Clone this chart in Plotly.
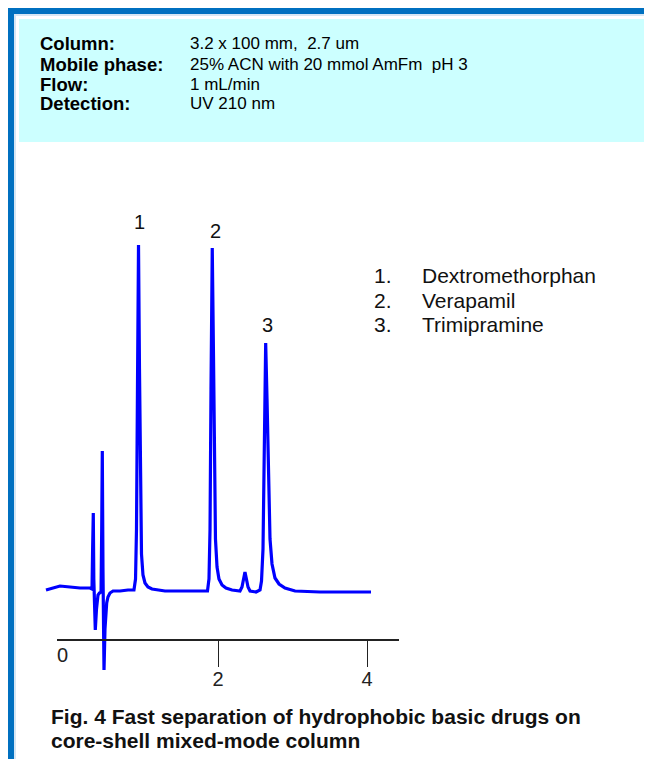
import plotly.graph_objects as go

# ---------------- data ----------------
time_min = [-0.309, -0.228, -0.121, 0.013, 0.148, 0.282, 0.309, 0.317, 0.326, 0.333, 0.342, 0.353,
            0.369, 0.389, 0.409, 0.430, 0.439, 0.447, 0.456, 0.464, 0.470, 0.483, 0.506, 0.523,
            0.550, 0.591, 0.685, 0.792, 0.872, 0.893, 0.906, 0.919, 0.933, 0.946, 0.960, 0.973,
            0.993, 1.020, 1.060, 1.114, 1.289, 1.490, 1.691, 1.859, 1.879, 1.893, 1.906, 1.923,
            1.940, 1.953, 1.966, 1.987, 2.013, 2.054, 2.107, 2.188, 2.295, 2.322, 2.349, 2.362,
            2.376, 2.403, 2.430, 2.510, 2.564, 2.584, 2.604, 2.624, 2.640, 2.658, 2.678, 2.698,
            2.725, 2.765, 2.819, 2.899, 3.034, 3.369, 3.705, 4.054]
signal = [-1, 1, 3, 2, 1, 1, 0, 40, 76, 10, -20, -41,
          -20, -6, -4, -3, 60, 138, 20, -40, -81, -40, -14, -8,
          -4, -2, -2, -1, -1, 10, 60, 200, 344, 220, 90, 35,
          14, 6, 2, 0, -2, -2, -2, -2, 10, 60, 200, 341,
          230, 110, 50, 22, 10, 4, 1, -1, -2, 2, 12, 17,
          12, 2, -2, -3, -1, 8, 40, 150, 246, 190, 100, 50,
          25, 11, 5, 1, -2, -3, -3, -3]

peak_numbers = ["1", "2", "3"]
peak_times = [0.95, 1.96, 2.67]
peak_label_heights = [367, 358, 264]

compounds = ["Dextromethorphan", "Verapamil", "Trimipramine"]

header_labels = ["Column:", "Mobile phase:", "Flow:", "Detection:"]
header_values = ["3.2 x 100 mm,  2.7 um", "25% ACN with 20 mmol AmFm  pH 3", "1 mL/min", "UV 210 nm"]

axis_ticks = [2, 4]
axis_tick_text = ["2", "4"]

caption_lines = ["Fig. 4 Fast separation of hydrophobic basic drugs on",
                 "core-shell mixed-mode column"]

# ---------------- layout helpers ----------------
OFF = 8                      # page body margin
W, H = 652 - OFF, 759 - OFF  # figure size
X_ORIGIN_PX, PX_PER_MIN = 69.0, 74.5   # reference-picture pixels
Y_BASE_PX = 589.0
X0 = -(X_ORIGIN_PX - OFF) / PX_PER_MIN
X1 = (W - (X_ORIGIN_PX - OFF)) / PX_PER_MIN
Y_TOP = Y_BASE_PX - OFF
Y_BOT = Y_BASE_PX - OFF - H


def px(x):
    return (x - OFF) / W


def py(y):
    return 1 - (y - OFF) / H


FONT = "Liberation Sans, Arial, sans-serif"
BLUE_BORDER = "#0070C0"
CYAN = "#CCFFFF"

fig = go.Figure()
fig.add_trace(go.Scatter(x=time_min, y=signal, mode="lines",
                         line=dict(color="#0000FF", width=3.2), hoverinfo="skip",
                         xaxis="x", yaxis="y", showlegend=False))
# empty trace to materialise the visible time axis
fig.add_trace(go.Scatter(x=[], y=[], xaxis="x2", yaxis="y", showlegend=False))

ax_l, ax_r = 57, 399
fig.update_layout(
    width=W, height=H,
    margin=dict(l=0, r=0, t=0, b=0),
    paper_bgcolor="white", plot_bgcolor="rgba(0,0,0,0)",
    xaxis=dict(domain=[0, 1], range=[X0, X1], visible=False),
    yaxis=dict(domain=[0, 1], range=[Y_BOT, Y_TOP], visible=False),
    xaxis2=dict(domain=[px(ax_l), px(ax_r)],
                range=[X0 + px(ax_l) * (X1 - X0), X0 + px(ax_r) * (X1 - X0)],
                anchor="free", position=py(640),
                showline=True, linecolor="#222", linewidth=2,
                ticks="outside", ticklen=26, tickwidth=1.2, tickcolor="#222",
                tickvals=axis_ticks, ticktext=axis_tick_text,
                tickfont=dict(family=FONT, size=20, color="#222"),
                ticklabelstandoff=-5,
                showgrid=False, zeroline=False),
    showlegend=False,
)

shapes = [
    dict(type="rect", xref="paper", yref="paper", x0=px(8), x1=px(652), y0=py(14), y1=py(8),
         fillcolor=BLUE_BORDER, line=dict(width=0), layer="below"),
    dict(type="rect", xref="paper", yref="paper", x0=px(8), x1=px(14), y0=py(759), y1=py(8),
         fillcolor=BLUE_BORDER, line=dict(width=0), layer="below"),
    dict(type="rect", xref="paper", yref="paper", x0=px(14), x1=px(652), y0=py(16), y1=py(14),
         fillcolor="#D6E6F4", line=dict(width=0), layer="below"),
    dict(type="rect", xref="paper", yref="paper", x0=px(14), x1=px(16), y0=py(759), y1=py(14),
         fillcolor="#D6E6F4", line=dict(width=0), layer="below"),
    dict(type="rect", xref="paper", yref="paper", x0=px(19), x1=px(646), y0=py(142), y1=py(19),
         fillcolor=CYAN, line=dict(width=0), layer="below"),
]
fig.update_layout(shapes=shapes)

ann = []
row_y = [44, 64, 84, 104]
for lab, val, y in zip(header_labels, header_values, row_y):
    ann.append(dict(text="<b>%s</b>" % lab, x=px(38), y=py(y), xref="paper", yref="paper",
                    xanchor="left", yanchor="middle", showarrow=False,
                    font=dict(family=FONT, size=18.5, color="black")))
    ann.append(dict(text=val, x=px(188), y=py(y), xref="paper", yref="paper",
                    xanchor="left", yanchor="middle", showarrow=False,
                    font=dict(family=FONT, size=17, color="black")))

for n, t, h in zip(peak_numbers, peak_times, peak_label_heights):
    ann.append(dict(text=n, x=t, y=h, xref="x", yref="y", xanchor="center", yanchor="middle",
                    showarrow=False, font=dict(family=FONT, size=20, color="#111")))

leg_y = [275, 300, 325]
for i, (c, y) in enumerate(zip(compounds, leg_y)):
    ann.append(dict(text="%d." % (i + 1), x=px(372), y=py(y), xref="paper", yref="paper",
                    xanchor="left", yanchor="middle", showarrow=False,
                    font=dict(family=FONT, size=21, color="#111")))
    ann.append(dict(text=c, x=px(420), y=py(y), xref="paper", yref="paper",
                    xanchor="left", yanchor="middle", showarrow=False,
                    font=dict(family=FONT, size=21, color="#111")))

# "0" label of the time axis (sits above the axis, without a tick)
ann.append(dict(text="0", x=-0.094, y=Y_BASE_PX - 655, xref="x", yref="y",
                xanchor="center", yanchor="middle", showarrow=False,
                font=dict(family=FONT, size=20, color="#222")))

for line, y in zip(caption_lines, [716, 740]):
    ann.append(dict(text="<b>%s</b>" % line, x=px(49), y=py(y), xref="paper", yref="paper",
                    xanchor="left", yanchor="middle", align="left", showarrow=False,
                    font=dict(family=FONT, size=21, color="#111")))

fig.update_layout(annotations=ann)
fig.write_html("out.html")
